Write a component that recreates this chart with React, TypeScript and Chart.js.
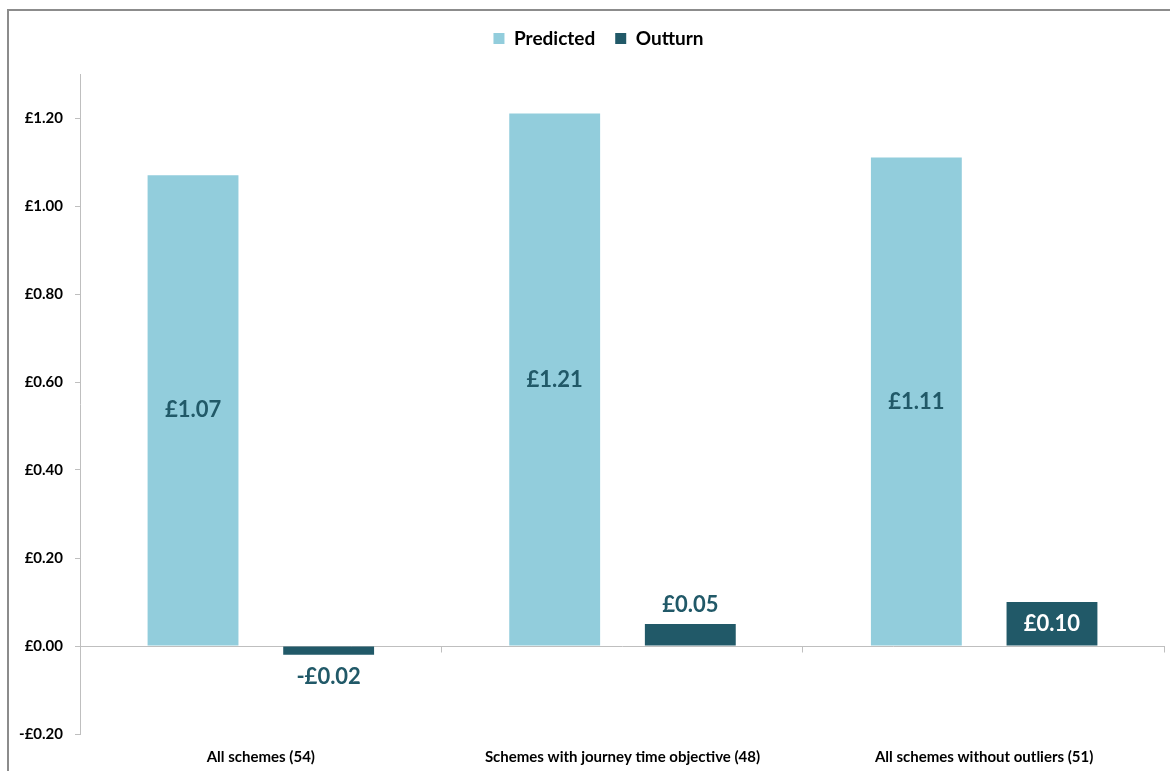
import React, { useEffect, useRef } from "react";
import { Chart, registerables } from "chart.js";

Chart.register(...registerables);

const categories = [
  "All schemes (54)",
  "Schemes with journey time objective (48)",
  "All schemes without outliers (51)",
];
const predicted = [1.07, 1.21, 1.11];
const outturn = [-0.02, 0.05, 0.1];
const seriesNames = ["Predicted", "Outturn"];
const yMin = -0.2;
const yMax = 1.3;
const yStep = 0.2;

const LIGHT = "#92CDDC";
const DARK = "#215968";
const AXIS = "#bfbfbf";
const FONT = "Lato, 'Open Sans', sans-serif";

const fmt = (v: number) => {
  const x = Math.abs(v) < 1e-9 ? 0 : v;
  return (x < 0 ? "-" : "") + "£" + Math.abs(x).toFixed(2);
};

const framePlugin = {
  id: "frame",
  beforeDraw(chart: any) {
    const ctx = chart.ctx;
    ctx.save();
    ctx.fillStyle = "#ffffff";
    ctx.fillRect(0, 0, chart.width, chart.height);
    ctx.strokeStyle = "#8c8c8c";
    ctx.lineWidth = 2;
    ctx.strokeRect(8, 10, chart.width + 50, chart.height + 50);
    ctx.restore();
  },
};

const zeroLinePlugin = {
  id: "zeroLine",
  beforeDatasetsDraw(chart: any) {
    const { ctx, chartArea, scales } = chart;
    const y0 = Math.round(scales.y.getPixelForValue(0)) + 0.5;
    ctx.save();
    ctx.strokeStyle = AXIS;
    ctx.lineWidth = 1;
    ctx.beginPath();
    ctx.moveTo(chartArea.left, y0);
    ctx.lineTo(chartArea.right, y0);
    const n = categories.length;
    for (let i = 1; i <= n; i++) {
      const x =
        i < n
          ? (scales.x.getPixelForValue(i - 1) + scales.x.getPixelForValue(i)) / 2
          : chartArea.right;
      const xx = Math.round(x) - 0.5;
      ctx.moveTo(xx, y0);
      ctx.lineTo(xx, y0 + 6);
    }
    ctx.stroke();
    ctx.restore();
  },
};

const labelPlugin = {
  id: "barLabels",
  afterDatasetsDraw(chart: any) {
    const ctx = chart.ctx;
    ctx.save();
    ctx.font = `bold 22px ${FONT}`;
    ctx.textAlign = "center";
    ctx.textBaseline = "middle";
    chart.data.datasets.forEach((ds: any, di: number) => {
      const meta = chart.getDatasetMeta(di);
      meta.data.forEach((bar: any, i: number) => {
        const v = ds.data[i];
        const txt = fmt(v);
        const h = Math.abs(bar.base - bar.y);
        if (di === 0) {
          ctx.fillStyle = DARK;
          ctx.fillText(txt, bar.x, (bar.y + bar.base) / 2);
        } else if (v < 0) {
          ctx.fillStyle = DARK;
          ctx.fillText(txt, bar.x, bar.y + 22);
        } else if (h < 30) {
          ctx.fillStyle = DARK;
          ctx.fillText(txt, bar.x, bar.y - 19);
        } else {
          ctx.fillStyle = "#ffffff";
          ctx.fillText(txt, bar.x, (bar.y + bar.base) / 2);
        }
      });
    });
    ctx.restore();
  },
};

const legendHeightPlugin = {
  id: "legendHeight",
  afterInit(chart: any) {
    const lg = chart.legend;
    if (lg && !lg.__patched) {
      const orig = lg.fit.bind(lg);
      lg.fit = function () {
        orig();
        this.height = 65;
      };
      lg.__patched = true;
    }
  },
  afterLayout(chart: any) {
    const lg = chart.legend;
    if (lg) {
      lg.left += 16;
      lg.right += 16;
    }
  },
};

export default function App() {
  const ref = useRef<HTMLCanvasElement | null>(null);
  useEffect(() => {
    if (!ref.current) return;
    const chart = new Chart(ref.current, {
      type: "bar",
      data: {
        labels: categories,
        datasets: [
          {
            label: seriesNames[0],
            data: predicted,
            backgroundColor: LIGHT,
            categoryPercentage: 0.75,
            barPercentage: 0.67,
          },
          {
            label: seriesNames[1],
            data: outturn,
            backgroundColor: DARK,
            categoryPercentage: 0.75,
            barPercentage: 0.67,
          },
        ],
      },
      options: {
        responsive: false,
        animation: false,
        layout: { padding: { top: 9, right: 5, left: 0, bottom: 0 } },
        plugins: {
          legend: {
            position: "top",
            labels: {
              boxWidth: 11,
              boxHeight: 11,
              padding: 20,
              color: "#000",
              font: { family: FONT, size: 19, weight: "bold" },
            },
          },
          tooltip: { enabled: false },
        },
        scales: {
          x: {
            grid: { display: false },
            border: { display: false },
            ticks: {
              color: "#000",
              padding: 6,
              font: { family: FONT, size: 15, weight: "bold" },
            },
            afterFit(scale: any) {
              scale.height = 37;
            },
          },
          y: {
            min: yMin,
            max: yMax,
            grid: {
              display: true,
              drawOnChartArea: false,
              drawTicks: true,
              tickLength: 5,
              color: AXIS,
            },
            border: { display: true, color: AXIS },
            ticks: {
              stepSize: yStep,
              color: "#000",
              padding: 12,
              font: { family: FONT, size: 15, weight: "bold" },
              callback: (v: any) => fmt(Number(v)),
            },
            afterBuildTicks(scale: any) {
              scale.ticks = scale.ticks.filter((t: any) => {
                const k = (t.value - yMin) / yStep;
                return Math.abs(k - Math.round(k)) < 1e-6;
              });
            },
            afterFit(scale: any) {
              scale.width = 80;
            },
          },
        },
      },
      plugins: [framePlugin, zeroLinePlugin, labelPlugin, legendHeightPlugin],
    });
    return () => chart.destroy();
  }, []);
  return (
    <div style={{ position: "fixed", left: 0, top: 0, width: 1170, height: 771, background: "#fff" }}>
      <canvas ref={ref} width={1170} height={771} style={{ display: "block" }} />
    </div>
  );
}
